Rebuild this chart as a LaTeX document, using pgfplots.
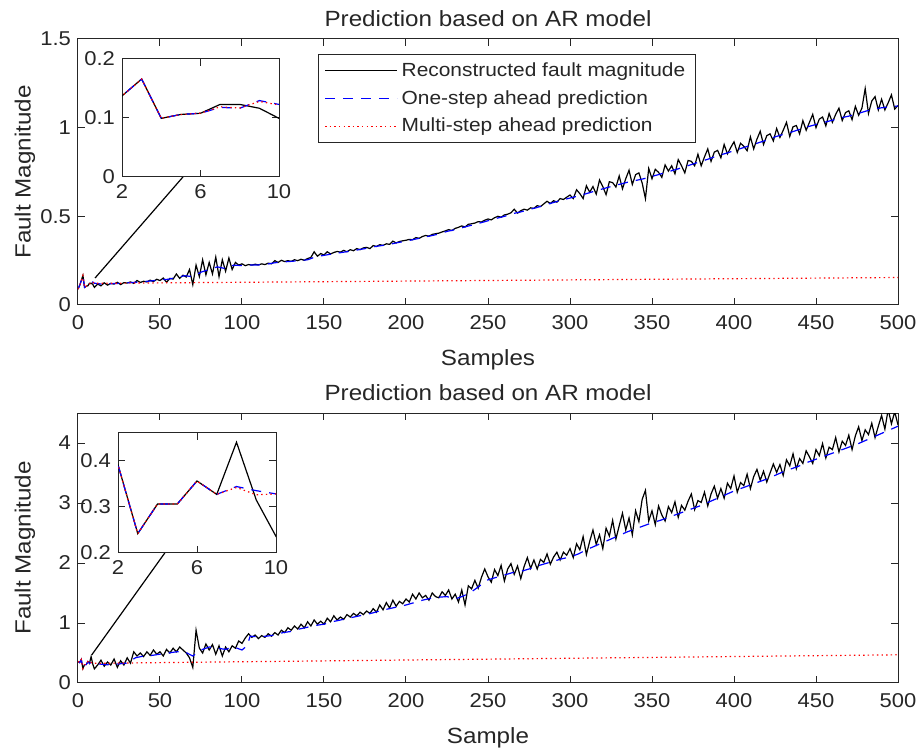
\documentclass[border=0pt]{standalone}
\usepackage{pgfplots}
\pgfplotsset{compat=1.18}
\usepackage{pgfplotstable}
\usepackage{fontspec}
\setmainfont{Liberation Sans}[FakeStretch=1.1]
\definecolor{axgray}{rgb}{0.15,0.15,0.15}

\pgfplotstableread{
x y
0 0.090
1 0.110
2 0.1375
3 0.166
4 0.0994
5 0.106
6 0.108
7 0.123
8 0.123
9 0.1165
10 0.0994
12 0.118
14 0.108
16 0.125
18 0.112
20 0.122
22 0.118
24 0.128
26 0.115
28 0.126
30 0.124
32 0.130
34 0.122
36 0.138
38 0.127
40 0.134
42 0.130
44 0.140
46 0.132
48 0.145
50 0.138
52 0.152
54 0.128
56 0.150
58 0.146
60 0.175
62 0.150
64 0.168
66 0.158
68 0.200
70 0.115
72 0.225
74 0.160
76 0.255
78 0.170
80 0.240
82 0.175
84 0.270
86 0.160
88 0.255
90 0.190
92 0.265
94 0.200
96 0.240
98 0.225
100 0.232
102 0.222
104 0.228
106 0.225
108 0.230
110 0.226
112 0.232
114 0.228
116 0.236
118 0.232
120 0.250
122 0.240
124 0.252
126 0.245
128 0.250
130 0.246
132 0.255
134 0.250
136 0.258
138 0.252
140 0.262
142 0.268
144 0.300
146 0.275
148 0.290
150 0.282
152 0.300
154 0.288
156 0.296
158 0.302
160 0.298
162 0.308
164 0.300
166 0.312
168 0.306
170 0.318
172 0.312
174 0.322
176 0.325
178 0.318
180 0.335
182 0.330
184 0.340
186 0.336
188 0.345
190 0.342
192 0.360
194 0.350
196 0.358
198 0.362
200 0.365
202 0.370
204 0.368
206 0.380
208 0.376
210 0.386
212 0.392
214 0.388
216 0.398
218 0.402
220 0.405
222 0.412
224 0.418
226 0.425
228 0.420
230 0.432
232 0.438
234 0.446
236 0.440
238 0.455
240 0.458
242 0.462
244 0.470
246 0.468
248 0.478
250 0.485
252 0.480
254 0.492
256 0.500
258 0.495
260 0.508
262 0.512
264 0.520
266 0.540
268 0.518
270 0.532
272 0.540
274 0.535
276 0.548
278 0.545
280 0.560
282 0.555
284 0.570
286 0.585
288 0.572
290 0.588
292 0.580
294 0.600
296 0.595
298 0.608
300 0.620
302 0.600
304 0.650
306 0.628
308 0.600
310 0.672
312 0.636
314 0.668
316 0.625
318 0.705
320 0.668
322 0.622
324 0.695
326 0.690
328 0.665
330 0.728
332 0.655
334 0.712
336 0.760
338 0.680
340 0.735
342 0.745
344 0.688
346 0.600
348 0.770
350 0.712
352 0.765
354 0.748
356 0.720
358 0.790
360 0.755
362 0.785
364 0.740
366 0.820
368 0.785
370 0.745
372 0.815
374 0.810
376 0.785
378 0.850
380 0.785
382 0.835
384 0.880
386 0.810
388 0.862
390 0.872
392 0.830
394 0.905
396 0.852
398 0.888
400 0.920
402 0.860
404 0.912
406 0.895
408 0.870
410 0.948
412 0.880
414 0.935
416 0.980
418 0.905
420 0.955
422 0.965
424 0.925
426 0.995
428 0.945
430 0.985
432 1.030
434 0.950
436 1.005
438 1.012
440 0.965
442 1.040
444 0.985
446 1.030
448 1.075
450 1.000
452 1.048
454 1.060
456 1.010
458 1.080
460 1.030
462 1.075
464 1.110
466 1.040
468 1.085
470 1.095
472 1.045
474 1.120
476 1.070
478 1.110
480 1.220
482 1.080
484 1.150
486 1.175
488 1.100
490 1.160
492 1.100
494 1.140
496 1.185
498 1.105
500 1.125
}\topblack

\pgfplotstableread{
x y
0 0.090
1 0.110
2 0.1375
3 0.166
4 0.0994
5 0.106
6 0.108
7 0.118
8 0.1165
9 0.1295
10 0.123
15 0.117
20 0.120
25 0.122
30 0.125
35 0.128
40 0.132
45 0.136
50 0.142
55 0.145
60 0.155
65 0.165
70 0.160
75 0.185
80 0.200
85 0.215
90 0.205
95 0.225
100 0.222
105 0.225
110 0.226
115 0.230
120 0.238
125 0.243
130 0.246
135 0.250
140 0.255
145 0.272
150 0.280
155 0.288
160 0.295
165 0.302
170 0.310
175 0.318
180 0.328
185 0.335
190 0.342
195 0.352
200 0.360
205 0.370
210 0.380
215 0.390
220 0.400
225 0.415
230 0.425
235 0.438
240 0.450
245 0.462
250 0.475
255 0.488
260 0.500
265 0.515
270 0.525
275 0.538
280 0.550
285 0.565
290 0.578
295 0.592
300 0.603
305 0.615
310 0.628
315 0.642
320 0.655
325 0.668
330 0.680
335 0.692
340 0.702
345 0.712
350 0.725
355 0.738
360 0.752
365 0.765
370 0.780
375 0.795
380 0.810
385 0.825
390 0.842
395 0.855
400 0.870
405 0.885
410 0.900
415 0.915
420 0.930
425 0.948
430 0.962
435 0.975
440 0.990
445 1.005
450 1.018
455 1.030
460 1.042
465 1.055
470 1.065
475 1.078
480 1.092
485 1.105
490 1.112
495 1.118
500 1.122
}\topblue

\pgfplotstableread{
x y
0 0.090
1 0.110
2 0.1375
3 0.166
4 0.0994
5 0.106
6 0.108
7 0.119
8 0.117
9 0.128
10 0.122
500 0.155
}\topred

\pgfplotstableread{
x y
0 0.360
1 0.340
2 0.391
3 0.242
4 0.306
5 0.306
6 0.356
7 0.327
8 0.440
9 0.315
10 0.236
12 0.30
14 0.38
16 0.28
18 0.35
20 0.30
22 0.40
24 0.26
26 0.37
28 0.30
30 0.42
32 0.33
34 0.52
36 0.45
38 0.50
40 0.44
42 0.52
44 0.46
46 0.55
48 0.48
50 0.52
52 0.45
54 0.56
56 0.50
58 0.58
60 0.52
62 0.60
64 0.55
66 0.50
68 0.42
70 0.26
72 0.88
74 0.58
76 0.50
78 0.65
80 0.55
82 0.64
84 0.48
86 0.62
88 0.45
90 0.60
92 0.52
94 0.62
96 0.58
98 0.70
100 0.66
102 0.75
104 0.82
106 0.76
108 0.80
110 0.74
112 0.79
114 0.76
116 0.82
118 0.78
120 0.84
122 0.80
124 0.88
126 0.84
128 0.92
130 0.88
132 0.95
134 0.90
136 0.98
138 0.92
140 1.02
142 0.95
144 1.05
146 0.98
148 1.03
150 0.98
152 1.08
154 1.02
156 1.12
158 1.05
160 1.10
162 1.06
164 1.14
166 1.10
168 1.16
170 1.12
172 1.18
174 1.14
176 1.20
178 1.16
180 1.24
182 1.18
184 1.30
186 1.22
188 1.34
190 1.25
192 1.38
194 1.28
196 1.36
198 1.32
200 1.40
202 1.35
204 1.48
206 1.40
208 1.50
210 1.42
212 1.46
214 1.38
216 1.50
218 1.44
220 1.42
222 1.52
224 1.46
226 1.55
228 1.40
230 1.48
232 1.35
234 1.55
236 1.30
238 1.62
240 1.57
242 1.71
244 1.58
246 1.76
248 1.90
250 1.77
252 1.68
254 1.89
256 1.79
258 1.96
260 1.70
262 1.90
264 1.99
266 1.81
268 1.95
270 1.74
272 1.94
274 2.09
276 1.91
278 2.05
280 1.90
282 2.06
284 2.01
286 2.15
288 1.98
290 2.10
292 2.18
294 2.05
296 2.18
298 2.13
300 2.24
302 2.09
304 2.32
306 2.22
308 2.44
310 2.14
312 2.36
314 2.55
316 2.31
318 2.47
320 2.24
322 2.58
324 2.45
326 2.71
328 2.40
330 2.62
332 2.83
334 2.55
336 2.75
338 2.47
340 2.87
342 2.69
344 3.06
346 3.21
348 2.70
350 2.87
352 2.64
354 2.95
356 2.80
358 2.70
360 2.94
362 2.84
364 3.02
366 2.76
368 2.96
370 2.88
372 3.03
374 3.15
376 2.89
378 3.04
380 3.01
382 3.18
384 2.95
386 3.15
388 3.28
390 3.08
392 3.24
394 3.08
396 3.33
398 3.24
400 3.45
402 3.18
404 3.34
406 3.29
408 3.48
410 3.24
412 3.44
414 3.56
416 3.38
418 3.53
420 3.35
422 3.50
424 3.65
426 3.51
428 3.64
430 3.46
432 3.72
434 3.62
436 3.82
438 3.57
440 3.74
442 3.66
444 3.87
446 3.77
448 3.66
450 3.89
452 3.79
454 3.99
456 3.75
458 3.93
460 3.89
462 4.09
464 3.85
466 4.03
468 3.96
470 4.13
472 3.89
474 4.12
476 4.27
478 4.04
480 4.22
482 4.14
484 4.33
486 4.09
488 4.28
490 4.46
492 4.23
494 4.56
496 4.32
498 4.52
500 4.30
}\botblack

\pgfplotstableread{
x y
0 0.360
1 0.340
2 0.391
3 0.242
4 0.306
5 0.306
6 0.356
7 0.327
8 0.344
9 0.335
10 0.328
15 0.31
20 0.30
25 0.32
30 0.33
35 0.42
40 0.45
45 0.46
50 0.48
55 0.50
60 0.52
65 0.52
70 0.45
75 0.55
80 0.60
85 0.58
90 0.56
95 0.60
100 0.55
103 0.62
105 0.78
110 0.77
115 0.78
120 0.80
125 0.84
130 0.86
135 0.90
140 0.93
145 0.96
150 0.98
155 1.02
160 1.05
165 1.08
170 1.11
175 1.14
180 1.17
185 1.21
190 1.24
195 1.27
200 1.30
205 1.34
210 1.38
215 1.41
220 1.43
225 1.44
230 1.40
235 1.45
240 1.52
245 1.62
250 1.72
255 1.76
260 1.80
265 1.84
270 1.86
275 1.90
280 1.95
285 1.99
290 2.03
295 2.07
300 2.10
305 2.15
310 2.22
315 2.28
320 2.34
325 2.40
330 2.46
335 2.52
340 2.57
345 2.62
350 2.67
355 2.71
360 2.76
365 2.81
370 2.86
375 2.91
380 2.96
385 3.02
390 3.08
395 3.14
400 3.20
405 3.25
410 3.30
415 3.35
420 3.40
425 3.46
430 3.52
435 3.57
440 3.62
445 3.68
450 3.73
455 3.78
460 3.83
465 3.88
470 3.93
475 3.98
480 4.04
485 4.10
490 4.16
495 4.22
500 4.28
}\botblue

\pgfplotstableread{
x y
0 0.360
1 0.340
2 0.391
3 0.242
4 0.306
5 0.306
6 0.356
7 0.327
8 0.342
9 0.326
10 0.328
500 0.470
}\botred

\pgfplotsset{
  base/.style={
    scale only axis,
    axis line style={axgray, line width=0.5pt},
    tick style={axgray, line width=0.5pt},
    tick align=inside,
    xtick pos=both, ytick pos=both,
    major tick length=3.5pt,
    tick label style={font=\fontsize{10}{12}\selectfont, text=axgray},
    /pgf/number format/assume math mode=true,
    clip=true,
  },
  mainax/.style={
    base,
    width=410pt,
    xmin=0, xmax=500,
    xtick={0,50,...,500},
    xticklabel style={yshift=-1.5pt},
    label style={font=\fontsize{11}{13}\selectfont, text=axgray},
    every axis title shift=0pt,
    title style={font=\fontsize{11}{13}\selectfont, text=axgray, at={(axis description cs:0.5,1)}, anchor=center, yshift=10pt},
  },
  insetax/.style={
    base,
    axis background/.style={fill=white},
    xmin=2, xmax=10,
    xtick={2,6,10},
  },
  blk/.style={black, line width=0.6pt},
  blu/.style={blue, line width=0.6pt, dash pattern=on 5pt off 4pt},
  rd/.style={red, line width=0.6pt, dash pattern=on 0.7pt off 1.6pt},
}

\begin{document}
\begin{tikzpicture}
\useasboundingbox (-39pt,-35.5pt) rectangle (421pt,341.5pt);

% top main axis
\begin{axis}[mainax,
  at={(0pt,189pt)}, anchor=south west,
  height=133pt,
  ymin=0, ymax=1.5, ytick={0,0.5,1,1.5},
  title={Prediction based on AR model},
  xlabel={Samples}, ylabel={Fault Magnitude},
  xlabel style={at={(axis description cs:0.5,-0.207)}, anchor=center},
  ylabel style={at={(axis description cs:-0.0646,0.5)}, anchor=center},
  legend style={at={(axis description cs:0.2927,0.9436)}, anchor=north west,
    draw=axgray, line width=0.5pt, font=\fontsize{9.5}{11}\selectfont,
    inner xsep=3pt, inner ysep=2pt, row sep=1.5pt,
    nodes={inner sep=2pt, text=axgray}},
  legend cell align=left,
  legend image code/.code={\draw[#1] (0pt,0pt) -- (36pt,0pt);},
]
\addplot[blk] table {\topblack};
\addlegendentry{Reconstructed fault magnitude}
\addplot[blu] table {\topblue};
\addlegendentry{One-step ahead prediction}
\addplot[rd] table {\topred};
\addlegendentry{Multi-step ahead prediction}
\addplot[black, line width=0.6pt, forget plot] coordinates {(10.4,0.152) (64,0.722)};
\end{axis}

% top inset
\begin{axis}[insetax,
  at={(22pt,253pt)}, anchor=south west,
  width=78.5pt, height=59pt,
  ymin=0, ymax=0.2, ytick={0,0.1,0.2},
]
\addplot[blk] table {\topblack};
\addplot[blu] table {\topblue};
\addplot[rd] table {\topred};
\end{axis}

% bottom main axis
\begin{axis}[mainax,
  at={(0pt,0pt)}, anchor=south west,
  height=135pt,
  ymin=0, ymax=4.5, ytick={0,1,2,3,4},
  title={Prediction based on AR model},
  xlabel={Sample}, ylabel={Fault Magnitude},
  xlabel style={at={(axis description cs:0.5,-0.204)}, anchor=center},
  ylabel style={at={(axis description cs:-0.0646,0.5)}, anchor=center},
]
\addplot[blk] table {\botblack};
\addplot[blu] table {\botblue};
\addplot[rd] table {\botred};
\addplot[black, line width=0.6pt] coordinates {(8.35,0.467) (53,2.17)};
\end{axis}

% bottom inset
\begin{axis}[insetax,
  at={(20pt,65pt)}, anchor=south west,
  width=79pt, height=60pt,
  ymin=0.2, ymax=0.46, ytick={0.2,0.3,0.4},
]
\addplot[blk] table {\botblack};
\addplot[blu] table {\botblue};
\addplot[rd] table {\botred};
\end{axis}
\end{tikzpicture}
\end{document}
